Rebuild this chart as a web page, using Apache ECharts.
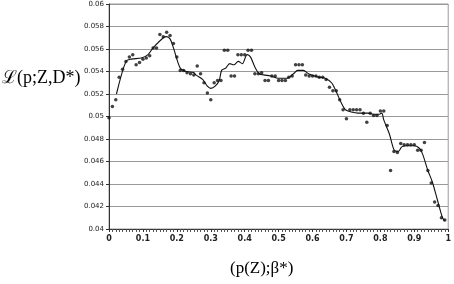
<!DOCTYPE html>
<html><head><meta charset="utf-8">
<script src="https://cdn.jsdelivr.net/npm/echarts@6/dist/echarts.min.js"></script>
<style>html,body{margin:0;padding:0;background:#fff}#c{width:454px;height:284px}</style>
</head><body><div id="c"></div>
<script>
const pointP = [0.00,0.01,0.02,0.03,0.04,0.05,0.06,0.07,0.08,0.09,0.10,0.11,0.12,0.13,0.14,0.15,0.16,0.17,0.18,0.19,0.20,0.21,0.22,0.23,0.24,0.25,0.26,0.27,0.28,0.29,0.30,0.31,0.32,0.33,0.34,0.35,0.36,0.37,0.38,0.39,0.40,0.41,0.42,0.43,0.44,0.45,0.46,0.47,0.48,0.49,0.50,0.51,0.52,0.53,0.54,0.55,0.56,0.57,0.58,0.59,0.60,0.61,0.62,0.63,0.64,0.65,0.66,0.67,0.68,0.69,0.70,0.71,0.72,0.73,0.74,0.75,0.76,0.77,0.78,0.79,0.80,0.81,0.82,0.83,0.84,0.85,0.86,0.87,0.88,0.89,0.90,0.91,0.92,0.93,0.94,0.95,0.96,0.97,0.98,0.99];
const pointL = [0.0499,0.0509,0.0515,0.0535,0.0542,0.0549,0.0553,0.0555,0.0546,0.0548,0.0551,0.0552,0.0554,0.0561,0.0561,0.0573,0.0571,0.0575,0.0572,0.0565,0.0553,0.0541,0.0541,0.0539,0.0538,0.0537,0.0545,0.0538,0.0530,0.0521,0.0515,0.0530,0.0532,0.0532,0.0559,0.0559,0.0536,0.0536,0.0555,0.0555,0.0555,0.0559,0.0559,0.0538,0.0538,0.0539,0.0532,0.0532,0.0536,0.0536,0.0532,0.0532,0.0532,0.0535,0.0536,0.0546,0.0546,0.0546,0.0537,0.0536,0.0536,0.0536,0.0535,0.0535,0.0533,0.0526,0.0523,0.0523,0.0515,0.0506,0.0498,0.0506,0.0506,0.0506,0.0506,0.0503,0.0495,0.0503,0.0501,0.0501,0.0505,0.0505,0.0492,0.0452,0.0469,0.0468,0.0476,0.0475,0.0475,0.0475,0.0475,0.0470,0.0470,0.0477,0.0452,0.0441,0.0424,0.0421,0.0410,0.0408];
const curveP = [0.022,0.05,0.066,0.095,0.115,0.13,0.16,0.17,0.18,0.19,0.21,0.228,0.25,0.256,0.276,0.29,0.30,0.313,0.325,0.332,0.344,0.356,0.368,0.381,0.393,0.407,0.417,0.43,0.443,0.456,0.476,0.50,0.524,0.544,0.556,0.573,0.588,0.617,0.637,0.656,0.67,0.685,0.697,0.714,0.734,0.763,0.783,0.797,0.804,0.81,0.827,0.841,0.853,0.863,0.88,0.90,0.914,0.924,0.94,0.953,0.968,0.982,0.989];
const curveL = [0.0520,0.0549,0.0551,0.0552,0.0555,0.0561,0.0570,0.0571,0.0569,0.0561,0.0543,0.0540,0.0539,0.0537,0.0533,0.0527,0.0525,0.0527,0.0532,0.0541,0.0543,0.0547,0.0546,0.0549,0.0547,0.0555,0.0553,0.0544,0.0538,0.0537,0.0536,0.0534,0.0534,0.0538,0.0541,0.0541,0.0538,0.0535,0.0534,0.0530,0.0522,0.0512,0.0506,0.0504,0.0503,0.0503,0.0502,0.0502,0.0503,0.0497,0.0484,0.0470,0.0469,0.0473,0.0474,0.0474,0.0472,0.0467,0.0452,0.0442,0.0426,0.0411,0.0407];
const yTitle = 'ℒ(p;Z,D*)';
const xTitle = '(p(Z);β*)';

const chart = echarts.init(document.getElementById('c'), null, {renderer:'canvas'});
chart.setOption({
  animation:false,
  backgroundColor:'#fff',
  grid:{left:109,right:3,top:4,bottom:55,show:true,borderColor:'#999',borderWidth:1},
  graphic:[
    {type:'text',left:2,top:69,style:{text:yTitle,font:'18px "Liberation Serif", serif',fill:'#000'}},
    {type:'text',left:230,top:260,style:{text:xTitle,font:'17px "Liberation Serif", serif',fill:'#000'}}
  ],
  xAxis:{type:'value',min:0,max:1,interval:0.1,
    axisLine:{lineStyle:{color:'#333',width:1}},
    axisTick:{show:true,length:3,lineStyle:{color:'#333'}},
    minorTick:{show:true,splitNumber:10,length:3,lineStyle:{color:'#555'}},
    splitLine:{show:false},
    axisLabel:{fontSize:8,fontWeight:'bold',color:'#222',margin:6,fontFamily:'"DejaVu Sans", sans-serif'}},
  yAxis:{type:'value',min:0.04,max:0.06,interval:0.002,
    axisLine:{show:true,lineStyle:{color:'#333',width:1}},
    axisTick:{show:true,length:3,lineStyle:{color:'#333'}},
    splitLine:{show:true,lineStyle:{color:'#999',width:1}},
    axisLabel:{fontSize:7,color:'#222',margin:5,fontFamily:'"DejaVu Sans", sans-serif',
      formatter:v=>String(+v.toFixed(3))}},
  series:[
    {type:'line',data:curveP.map((p,i)=>[p,curveL[i]]),smooth:0.3,showSymbol:false,
     lineStyle:{color:'#111',width:1.1},z:3},
    {type:'scatter',data:pointP.map((p,i)=>[p,pointL[i]]),symbol:'circle',symbolSize:3.5,
     itemStyle:{color:'#111'},z:4}
  ]
});
</script></body></html>
